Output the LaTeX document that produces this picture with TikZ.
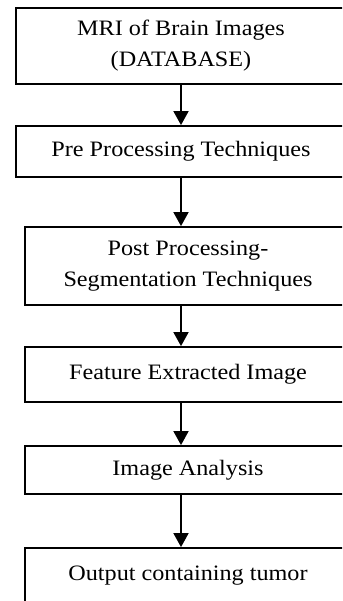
\documentclass[tikz,border=0pt]{standalone}
\usepackage{fontspec}
\setmainfont[FakeStretch=1.1]{Liberation Serif}
\usetikzlibrary{arrows.meta}

\begin{document}
\begin{tikzpicture}[x=1pt, y=-1pt,
    stage/.style={draw, line width=1.8pt, align=center, inner sep=0pt,
        font=\fontsize{22}{31}\selectfont},
    flow/.style={-{Triangle[width=15pt, length=14pt]}, line width=1.8pt}]
    % Fix the page and cut the boxes at its edges
    \useasboundingbox (0,0) rectangle (342,601);
    \clip (0,0) rectangle (342,601);

    % Draw the stages
    \node[stage, minimum width=330pt, minimum height=76pt] (mri) at (181,46)
        {MRI of Brain Images\\(DATABASE)};
    \node[stage, minimum width=330pt, minimum height=51pt] (pre) at (181,151.5)
        {Pre Processing Techniques};
    \node[stage, minimum width=326pt, minimum height=78pt] (post) at (188,266)
        {Post Processing-\\Segmentation Techniques};
    \node[stage, minimum width=326pt, minimum height=55pt] (feat) at (188,374.5)
        {Feature Extracted Image};
    \node[stage, minimum width=326pt, minimum height=48pt] (anal) at (188,470)
        {Image Analysis};
    \node[stage, minimum width=326pt, minimum height=56pt] (out) at (188,576)
        {Output containing tumor};

    % Draw the arrows
    \draw[flow] (mri.south) -- (pre.north);
    \draw[flow] (pre.south) -- (pre.south |- post.north);
    \draw[flow] (post.south -| pre.south) -- (pre.south |- feat.north);
    \draw[flow] (feat.south -| pre.south) -- (pre.south |- anal.north);
    \draw[flow] (anal.south -| pre.south) -- (pre.south |- out.north);
\end{tikzpicture}
\end{document}
